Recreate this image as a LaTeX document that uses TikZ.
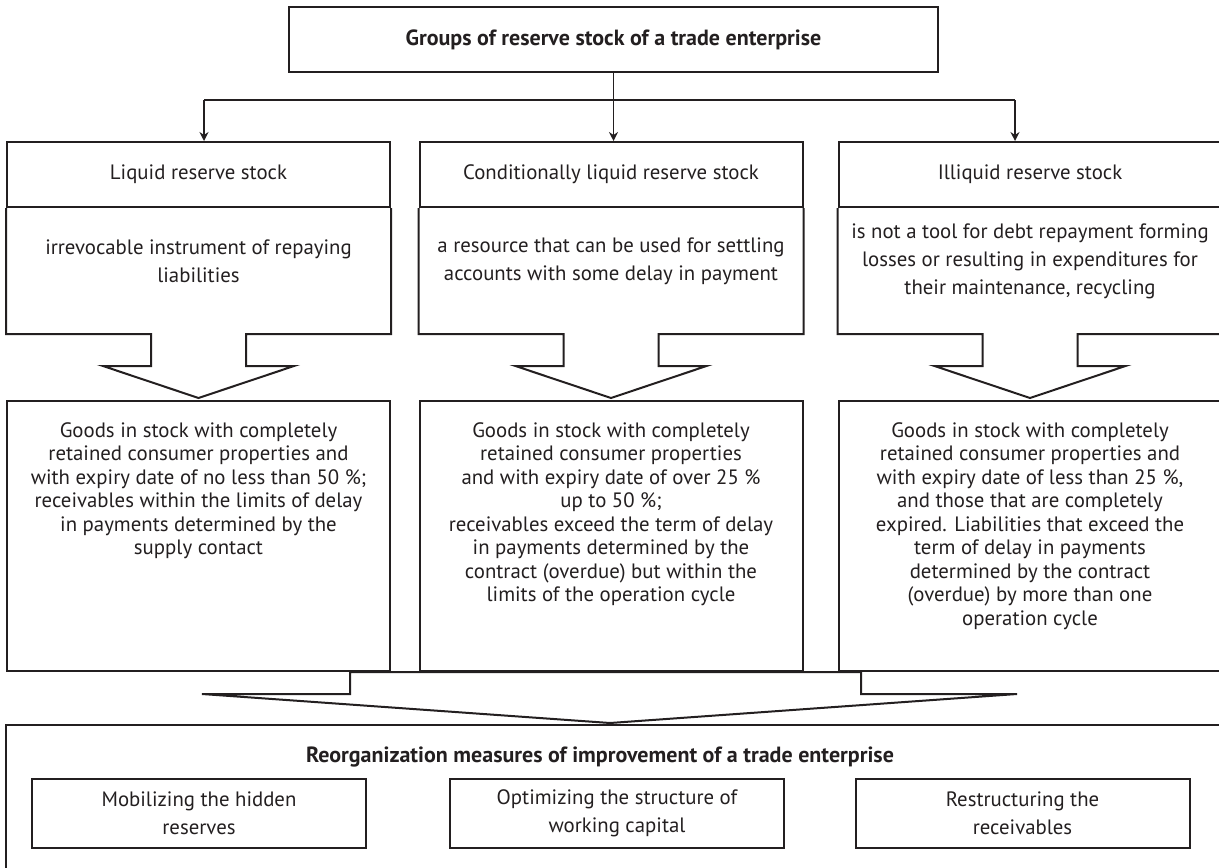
\documentclass[tikz,border=0pt]{standalone}
\usepackage{fontspec}
\setmainfont{PT Sans}
\usetikzlibrary{arrows.meta}
\definecolor{ink}{HTML}{231F20}

\tikzset{
  box/.style={draw=ink, line width=1pt, text=ink, align=center, inner sep=0pt},
  txt/.style={text=ink, align=center, inner sep=0pt, font=\fontsize{10.4}{14}\selectfont},
  goodstxt/.style={txt, font=\fontsize{10.4}{11.75}\selectfont},
  boldtxt/.style={txt, font=\bfseries\fontsize{11}{12}\selectfont},
  link/.style={draw=ink, line width=0.75pt},
  outline/.style={draw=ink, line width=1pt, line join=miter}
}

\begin{document}
\begin{tikzpicture}[x=0.5pt,y=-0.5pt]
\useasboundingbox (0,0) rectangle (1219,867);
\clip (0,0) rectangle (1219,867);

% top block
\node[box, boldtxt, minimum width=324.5pt, minimum height=32.5pt] (groups) at (613.5,39.5)
  {Groups of reserve stock of a trade enterprise};

% the three groups
\foreach \n/\cx/\head/\desc in {
  1/198.5/{Liquid reserve stock}/{irrevocable instrument of repaying\\liabilities},
  2/611/{Conditionally liquid reserve stock}/{a resource that can be used for settling\\accounts with some delay in payment},
  3/1030/{Illiquid reserve stock}/{is not a tool for debt repayment forming\\losses or resulting in expenditures for\\their maintenance, recycling}}
{
  \node[box, txt, minimum width=191.5pt, minimum height=32.5pt] (h\n) at (\cx,174.5) {\head};
  % description box with its arrow
  \draw[outline] (h\n.south west) -- ++(0,126) -- ([shift={(-47.5,126)}]h\n.south) -- ++(0,32)
    -- ++(-48,0) -- ([shift={(0,190)}]h\n.south) -- ++(95.5,-32) -- ++(-48,0) -- ++(0,-32)
    -- ([shift={(0,126)}]h\n.south east) -- (h\n.south east);
  \node[txt] (d\n) at ([shift={(0,53)}]h\n.south) {\desc};
  \node[box, minimum width=191.5pt, minimum height=135pt] (g\n) at (\cx,536) {};
}

\node[goodstxt, anchor=north] (gt1) at ([shift={(0,22)}]g1.north)
  {Goods in stock with completely\\retained consumer properties and\\with expiry date of no less than 50 \%;\\receivables within the limits of delay\\in payments determined by the\\supply contact};
\node[goodstxt, anchor=north] (gt2) at ([shift={(0,22)}]g2.north)
  {Goods in stock with completely\\retained consumer properties\\and with expiry date of over 25 \%\\up to 50 \%;\\receivables exceed the term of delay\\in payments determined by the\\contract (overdue) but within the\\limits of the operation cycle};
\node[goodstxt, anchor=north] (gt3) at ([shift={(0,22)}]g3.north)
  {Goods in stock with completely\\retained consumer properties and\\with expiry date of less than 25 \%,\\and those that are completely\\expired. Liabilities that exceed the\\term of delay in payments\\determined by the contract\\(overdue) by more than one\\operation cycle};

% arrows from the top block
\coordinate (fork1) at (204,100);
\coordinate (fork3) at (1015,100);
\draw[link] (fork1) -- (fork3);
\draw[link, -{Stealth[length=4.5pt,width=4.5pt]}] (groups.south) -- (groups.south |- h2.north);
\draw[link, -{Stealth[length=4.5pt,width=4.5pt]}] (fork1) -- (fork1 |- h1.north);
\draw[link, -{Stealth[length=4.5pt,width=4.5pt]}] (fork3) -- (fork3 |- h3.north);

% joint arrow into the measures
\draw[outline] ([shift={(-261,0)}]g2.south) -- ++(511,0) -- ++(0,22) -- ++(156,0)
  -- ([shift={(-1,51)}]g2.south) -- ([shift={(-409,22)}]g2.south) -- ++(148,0) -- cycle;

% measures
\node[box, minimum width=608pt, minimum height=80pt, anchor=north] (reorg) at (614,724) {};
\node[boldtxt] (reorgtitle) at (600,757)
  {Reorganization measures of improvement of a trade enterprise};
\foreach \n/\cx/\what in {1/199/{Mobilizing the hidden\\reserves},
  2/617/{Optimizing the structure of\\working capital}, 3/1022.5/{Restructuring the\\receivables}}
  \node[box, txt, minimum width=167pt, minimum height=34.5pt] (m\n) at (\cx,813.5) {\what};
\end{tikzpicture}
\end{document}
